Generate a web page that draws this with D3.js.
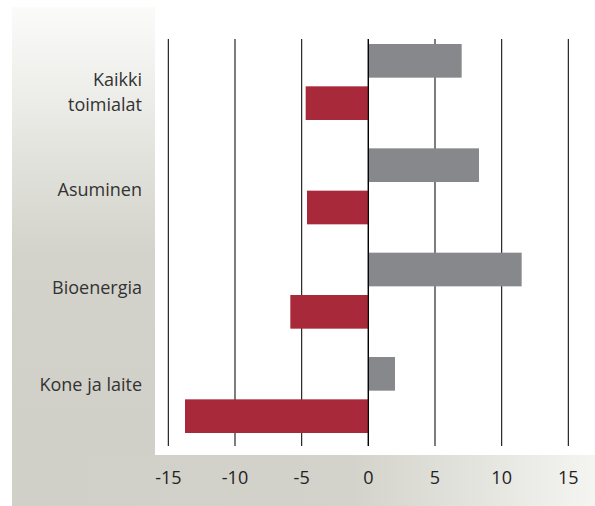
<!DOCTYPE html>
<html>
<head>
<meta charset="utf-8">
<script src="https://cdn.jsdelivr.net/npm/d3@7"></script>
<style>
  html, body { margin: 0; padding: 0; background: #fff; }
  svg { display: block; }
  text { font-family: "Open Sans", "DejaVu Sans", sans-serif; }
</style>
</head>
<body>
<svg id="chart" width="595" height="506"></svg>
<script>
const categories = ["Kaikki toimialat", "Asuminen", "Bioenergia", "Kone ja laite"];
const greyValues = [7.0, 8.3, 11.5, 2.0];
const redValues = [-4.7, -4.6, -5.85, -13.75];
const tickValues = [-15, -10, -5, 0, 5, 10, 15];

const svg = d3.select("#chart");
const W = 595, H = 506;

// backgrounds
const defs = svg.append("defs");
const gV = defs.append("linearGradient").attr("id", "gv").attr("x1", 0).attr("y1", 0).attr("x2", 0).attr("y2", 1);
gV.append("stop").attr("offset", "0%").attr("stop-color", "#fbfbfa");
gV.append("stop").attr("offset", "55%").attr("stop-color", "#d3d3cb");
gV.append("stop").attr("offset", "100%").attr("stop-color", "#d0d0c8");
const gH = defs.append("linearGradient").attr("id", "gh").attr("x1", 0).attr("y1", 0).attr("x2", 1).attr("y2", 0);
gH.append("stop").attr("offset", "0%").attr("stop-color", "#d0d0c8");
gH.append("stop").attr("offset", "58%").attr("stop-color", "#d3d3cb");
gH.append("stop").attr("offset", "100%").attr("stop-color", "#f4f4f1");

svg.append("rect").attr("x", 12).attr("y", 7).attr("width", 143).attr("height", 448).attr("fill", "url(#gv)");
svg.append("rect").attr("x", 12).attr("y", 455).attr("width", W - 12).attr("height", 51).attr("fill", "url(#gh)");

const x = d3.scaleLinear().domain([-15, 15]).range([168.33, 568.33]);
const y = d3.scaleBand().domain(categories).range([29.83, 447.17]).paddingInner(0.2716).paddingOuter(0.1358);
const labelY = d3.scalePoint().domain(categories).range([92, 385]);

const gridTop = 39, gridBottom = 446;

// grid lines
svg.append("g").selectAll("line").data(tickValues).join("line")
  .attr("x1", d => x(d)).attr("x2", d => x(d))
  .attr("y1", gridTop).attr("y2", gridBottom)
  .attr("stroke", "#111").attr("stroke-width", 1.1);

const bw = y.bandwidth();
const barH = bw * 0.443;

// grey bars
svg.append("g").selectAll("rect").data(categories).join("rect")
  .attr("x", (d, i) => x(Math.min(0, greyValues[i])))
  .attr("width", (d, i) => Math.abs(x(greyValues[i]) - x(0)))
  .attr("y", d => y(d))
  .attr("height", barH)
  .attr("fill", "#87888c");

// red bars
svg.append("g").selectAll("rect").data(categories).join("rect")
  .attr("x", (d, i) => x(Math.min(0, redValues[i])))
  .attr("width", (d, i) => Math.abs(x(redValues[i]) - x(0)))
  .attr("y", d => y(d) + bw - barH)
  .attr("height", barH)
  .attr("fill", "#a82a3a");

// zero line on top
svg.append("line")
  .attr("x1", x(0)).attr("x2", x(0)).attr("y1", gridTop).attr("y2", gridBottom)
  .attr("stroke", "#000").attr("stroke-width", 1.2);

// category labels
const lab = svg.append("g").selectAll("text").data(categories).join("text")
  .attr("text-anchor", "end")
  .attr("font-size", 18)
  .attr("fill", "#333");
lab.each(function(d) {
  const words = d === "Kaikki toimialat" ? ["Kaikki", "toimialat"] : [d];
  const t = d3.select(this);
  const lh = 25;
  const startDy = -(words.length - 1) * lh / 2;
  words.forEach((w, k) => {
    t.append("tspan").attr("x", 142).attr("y", labelY(d) + startDy + k * lh).attr("dy", "0.35em").text(w);
  });
});

// x axis tick labels
svg.append("g").selectAll("text").data(tickValues).join("text")
  .attr("x", d => x(d))
  .attr("y", 484)
  .attr("text-anchor", "middle")
  .attr("font-size", 18)
  .attr("fill", "#222")
  .text(d => d);
</script>
</body>
</html>
